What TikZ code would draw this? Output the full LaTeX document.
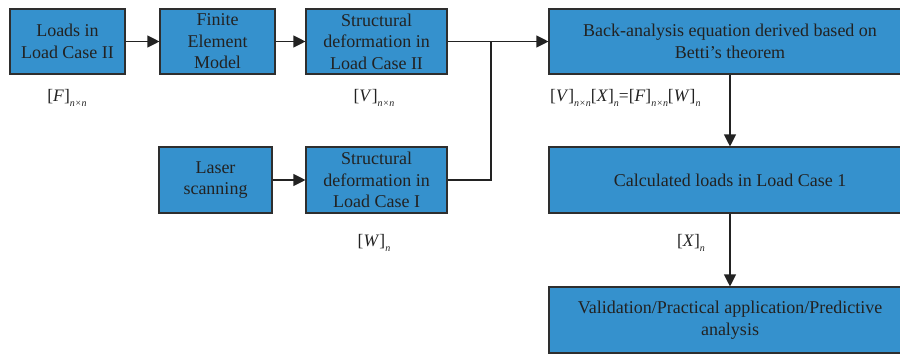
\documentclass[tikz,border=0pt]{standalone}
\usepackage{fontspec}
\setmainfont{Liberation Serif}
\usetikzlibrary{arrows.meta}
\definecolor{boxblue}{HTML}{3591CD}
\definecolor{boxline}{HTML}{2E2E2E}
\definecolor{txt}{HTML}{222222}
\newcommand{\mysb}[1]{\raisebox{-0.6ex}{\fontsize{10}{10}\selectfont\textit{#1}}}
\begin{document}
\begin{tikzpicture}[x=1pt,y=-1pt,
  box/.style={draw=boxline,line width=1.1pt,fill=boxblue,text=txt,align=center,
    font=\fontsize{18}{21.5}\selectfont,inner sep=0pt},
  conn/.style={draw=txt,line width=1.1pt},
  arr/.style={conn,-{Triangle[length=12pt,width=12pt]}},
  lbl/.style={text=txt,font=\fontsize{17.5}{18}\selectfont,inner sep=0pt}]
\useasboundingbox (0,0) rectangle (900,354);
\begin{scope}
\clip (0,0) rectangle (900,354);
\node[box,minimum width=115pt,minimum height=65pt] (loads) at (67.5,41.5) {Loads in\\Load Case II};
\node[box,minimum width=115pt,minimum height=65pt] (fem) at (217.5,41.5) {Finite\\Element\\Model};
\node[box,minimum width=141pt,minimum height=65pt] (s2) at (376.5,41.5) {Structural\\deformation in\\Load Case II};
\node[box,minimum width=362pt,minimum height=65pt] (back) at (730,41.5) {Back-analysis equation derived based on\\Betti’s theorem};
\node[box,minimum width=113pt,minimum height=66pt] (laser) at (215.5,180) {Laser\\scanning};
\node[box,minimum width=141pt,minimum height=66pt] (s1) at (376.5,180) {Structural\\deformation in\\Load Case I};
\node[box,minimum width=362pt,minimum height=66pt] (calc) at (730,180) {Calculated loads in Load Case 1};
\node[box,minimum width=362pt,minimum height=66pt] (valid) at (730,320) {Validation/Practical application/Predictive\\analysis};
\end{scope}
\coordinate (j) at (491,41.5);
\coordinate (j1) at (491,180);
\draw[arr] (loads) -- (fem);
\draw[arr] (fem) -- (s2);
\draw[arr] (s2) -- (back);
\draw[arr] (laser) -- (s1);
\draw[conn] (s1) -- (j1) -- (j);
\draw[arr] (back) -- (calc);
\draw[arr] (calc) -- (valid);
\node[lbl] (lf) at (67,98) {[\textit{F}]\mysb{n×n}};
\node[lbl] (lv) at (374,98) {[\textit{V}]\mysb{n×n}};
\node[lbl] (lw) at (374,243) {[\textit{W}]\mysb{n}};
\node[lbl,anchor=west] (leq) at (550,98) {[\textit{V}]\mysb{n×n}[\textit{X}]\mysb{n}=[\textit{F}]\mysb{n×n}[\textit{W}]\mysb{n}};
\node[lbl] (lx) at (691,243) {[\textit{X}]\mysb{n}};
\end{tikzpicture}
\end{document}
